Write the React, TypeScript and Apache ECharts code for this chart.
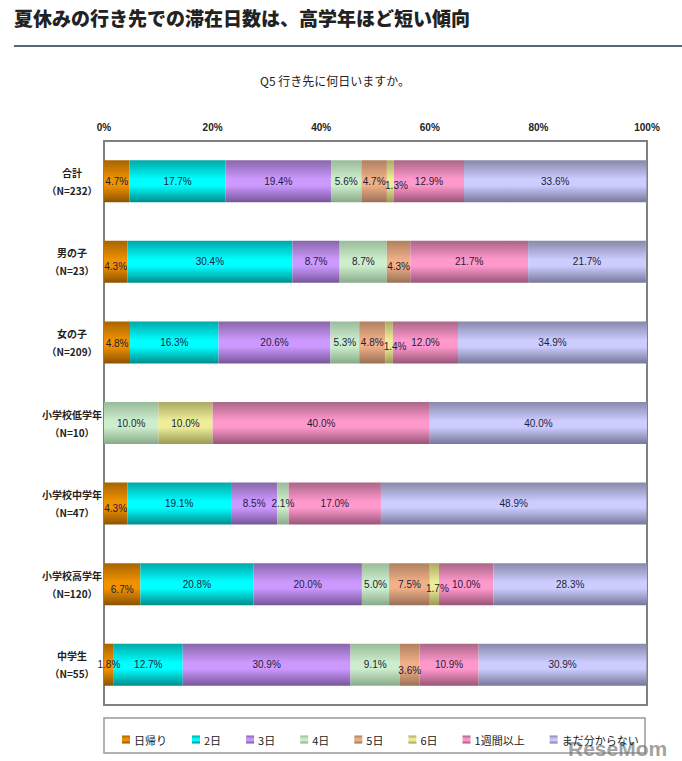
import React, { useEffect, useRef } from "react";
import * as echarts from "echarts";

const CATEGORIES = ["合計", "男の子", "女の子", "小学校低学年", "小学校中学年", "小学校高学年", "中学生"];
const SAMPLE_SIZES = ["（N=232）", "（N=23）", "（N=209）", "（N=10）", "（N=47）", "（N=120）", "（N=55）"];
const SERIES_NAMES = ["日帰り", "2日", "3日", "4日", "5日", "6日", "1週間以上", "まだ分からない"];

const DAY_TRIP = [4.7, 4.3, 4.8, 0, 4.3, 6.7, 1.8];
const TWO_DAYS = [17.7, 30.4, 16.3, 0, 19.1, 20.8, 12.7];
const THREE_DAYS = [19.4, 8.7, 20.6, 0, 8.5, 20.0, 30.9];
const FOUR_DAYS = [5.6, 8.7, 5.3, 10.0, 2.1, 5.0, 9.1];
const FIVE_DAYS = [4.7, 4.3, 4.8, 0, 0, 7.5, 3.6];
const SIX_DAYS = [1.3, 0, 1.4, 10.0, 0, 1.7, 0];
const WEEK_PLUS = [12.9, 21.7, 12.0, 40.0, 17.0, 10.0, 10.9];
const UNDECIDED = [33.6, 21.7, 34.9, 40.0, 48.9, 28.3, 30.9];

const X_TICKS = [0, 20, 40, 60, 80, 100];

const SERIES_VALUES = [DAY_TRIP, TWO_DAYS, THREE_DAYS, FOUR_DAYS, FIVE_DAYS, SIX_DAYS, WEEK_PLUS, UNDECIDED];

// [top, middle, bottom] gradient colours per series
const COLORS = [
  ["#a86400", "#f09200", "#8c5200"],
  ["#00a8a8", "#00ffff", "#008c8c"],
  ["#8866aa", "#cc99ff", "#775599"],
  ["#99bb99", "#cceecc", "#88aa88"],
  ["#b08060", "#f0b088", "#997055"],
  ["#aaaa66", "#eeee99", "#999955"],
  ["#aa6688", "#ff99cc", "#995577"],
  ["#8888aa", "#ccccff", "#777799"],
];

// label nudges (Excel overlap avoidance): [seriesIndex, categoryIndex, dx, dy]
const LABEL_NUDGES: [number, number, number, number][] = [
  [5, 0, 6, 4],
  [0, 1, 0, 5],
  [4, 1, 0, 5],
  [0, 2, 0, 1],
  [5, 2, 6, 4],
  [0, 4, 0, 5],
  [0, 5, 0, 5],
  [5, 5, 3, 4],
  [4, 6, 0, 6],
];

export default function App() {
  const ref = useRef<HTMLDivElement>(null);
  useEffect(() => {
    document.body.style.margin = "0";
    if (!ref.current) return;
    const chart = echarts.init(ref.current, null, { renderer: "svg" });
    const grad = (c: string[]) =>
      new echarts.graphic.LinearGradient(0, 0, 0, 1, [
        { offset: 0, color: c[0] },
        { offset: 0.45, color: c[1] },
        { offset: 0.6, color: c[1] },
        { offset: 1, color: c[2] },
      ]);
    const series = SERIES_VALUES.map((vals, si) => ({
      name: SERIES_NAMES[si],
      type: "bar",
      stack: "total",
      barWidth: 42,
      itemStyle: { color: grad(COLORS[si]) },
      label: {
        show: true,
        position: "inside",
        fontFamily: "'Liberation Sans Narrow', 'Arial Narrow', 'Liberation Sans', sans-serif",
        fontSize: 10,
        color: "#1c1c3c",
        formatter: (p: any) => (p.value == null ? "" : Number(p.value).toFixed(1) + "%"),
      },
      data: vals.map((v, ci) => {
        if (!v) return null;
        const n = LABEL_NUDGES.find((x) => x[0] === si && x[1] === ci);
        return n ? { value: v, label: { offset: [n[2], n[3]] } } : v;
      }),
    }));
    chart.setOption({
      animation: false,
      textStyle: { fontFamily: "'Noto Sans CJK JP', sans-serif" },
      grid: {
        left: 104,
        right: 35,
        top: 141,
        bottom: 56,
        show: true,
        borderColor: "#808080",
        borderWidth: 2,
        backgroundColor: "transparent",
      },
      xAxis: {
        type: "value",
        position: "top",
        min: X_TICKS[0],
        max: X_TICKS[X_TICKS.length - 1],
        interval: X_TICKS[1] - X_TICKS[0],
        axisLine: { show: false },
        axisTick: { show: false },
        splitLine: { show: false },
        axisLabel: {
          formatter: "{value}%",
          margin: 9,
          fontSize: 10,
          fontWeight: "bold",
          color: "#222",
          fontFamily: "'Liberation Sans Narrow', 'Arial Narrow', 'Liberation Sans', sans-serif",
        },
      },
      yAxis: {
        type: "category",
        inverse: true,
        data: CATEGORIES,
        axisLine: { show: false },
        axisTick: { show: false },
        axisLabel: {
          margin: 4,
          formatter: (v: string, i: number) => `{a|${v}}\n{a|${SAMPLE_SIZES[i]}}`,
          rich: {
            a: {
              width: 56,
              align: "center",
              fontSize: 10,
              fontWeight: "bold",
              lineHeight: 18,
              color: "#222",
              fontFamily: "'Noto Sans CJK JP', sans-serif",
            },
          },
        },
      },
      legend: {
        left: 117,
        top: 729,
        itemWidth: 8,
        itemHeight: 8,
        itemGap: 25,
        icon: "rect",
        data: SERIES_NAMES,
        textStyle: { fontSize: 11, color: "#222", fontFamily: "'Noto Sans CJK JP', sans-serif", padding: [0, 0, 0, -1] },
      },
      graphic: [
        {
          type: "text",
          left: 14,
          top: 8,
          style: {
            text: "夏休みの行き先での滞在日数は、高学年ほど短い傾向",
            fontSize: 19,
            fontWeight: 900,
            fill: "#222",
            fontFamily: "'Noto Sans CJK JP', sans-serif",
          },
        },
        {
          type: "line",
          shape: { x1: 14, y1: 46, x2: 682, y2: 46 },
          style: { stroke: "#223344", lineWidth: 1.5 },
        },
        {
          type: "text",
          x: 335,
          y: 80,
          style: {
            text: "Q5 行き先に何日いますか。",
            fontSize: 12,
            fill: "#222",
            align: "center",
            verticalAlign: "middle",
            fontFamily: "'Noto Sans CJK JP', sans-serif",
          },
        },
        {
          type: "rect",
          shape: { x: 104, y: 718, width: 541, height: 35 },
          style: { fill: "none", stroke: "#999", lineWidth: 1.5 },
        },
        {
          type: "text",
          x: 568,
          y: 738,
          style: {
            text: "ReseMom",
            fontSize: 21,
            fontWeight: "bold",
            fill: "rgba(120,120,120,0.7)",
            fontFamily: "'Liberation Sans Narrow', 'Liberation Sans', sans-serif",
          },
        },
      ],
      series,
    });
    return () => chart.dispose();
  }, []);
  return <div ref={ref} style={{ width: 682, height: 761 }} />;
}
